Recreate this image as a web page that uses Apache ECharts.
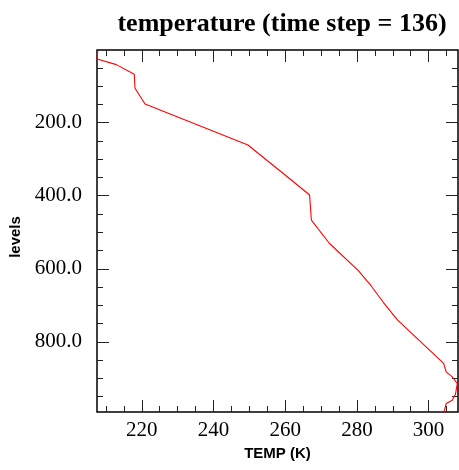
<!DOCTYPE html>
<html>
<head>
<meta charset="utf-8">
<script src="https://cdn.jsdelivr.net/npm/echarts@6/dist/echarts.min.js"></script>
<style>
html,body{margin:0;padding:0;background:#fff;}
#chart{width:459px;height:470px;}
</style>
</head>
<body>
<div id="chart"></div>
<script>
// temperature (K) at each level
var temps = [207.7, 207.5, 212.9, 217.9, 218.1, 220.9, 249.6, 261.7, 266.8, 267.3, 272.3, 280.4, 284.0, 287.3, 291.3, 304.2, 304.9, 306.6, 308.0, 307.5, 306.6, 304.9, 304.5, 304.2];
var levels = [2.7, 25.5, 41, 67.4, 105.8, 148.8, 261, 357, 398, 466.6, 530, 605, 647, 691, 740, 859, 882, 896, 914, 943, 960, 969, 985, 994];
var xRange = [207.5, 308.2];
var yRange = [1, 992];
var xMajorTicks = [220, 240, 260, 280, 300];
var xMinorTicks = [210, 215, 225, 230, 235, 245, 250, 255, 265, 270, 275, 285, 290, 295, 305];
var yMajorTicks = [200, 400, 600, 800];
var yMinorTicks = [50, 100, 150, 250, 300, 350, 450, 500, 550, 650, 700, 750, 850, 900, 950];

var chart = echarts.init(document.getElementById('chart'), null, {renderer: 'canvas'});
var serif = '"Liberation Serif", "Times New Roman", serif';
var sans = '"Liberation Sans", Arial, sans-serif';

function xAx(pos, ticks, len, labels) {
  return {
    type: 'value', position: pos, min: xRange[0], max: xRange[1], gridIndex: 0,
    axisLine: {show: false},
    splitLine: {show: false},
    axisTick: {show: true, inside: true, length: len, customValues: ticks, lineStyle: {color: '#222', width: 1}},
    axisLabel: labels ? {show: true, customValues: ticks, fontFamily: serif, fontSize: 21, color: '#000', margin: 8} : {show: false}
  };
}
function yAx(pos, ticks, len, labels) {
  return {
    type: 'value', position: pos, min: yRange[0], max: yRange[1], inverse: true, gridIndex: 0,
    axisLine: {show: false},
    splitLine: {show: false},
    axisTick: {show: true, inside: true, length: len, customValues: ticks, lineStyle: {color: '#222', width: 1}},
    axisLabel: labels ? {show: true, customValues: ticks, fontFamily: serif, fontSize: 21, color: '#000', margin: 15,
      formatter: function (v) { return v.toFixed(1); }} : {show: false}
  };
}

var xAxes = [
  xAx('bottom', xMajorTicks, 12, true),
  xAx('bottom', xMinorTicks, 6, false),
  xAx('top', xMajorTicks, 12, false),
  xAx('top', xMinorTicks, 6, false)
];
xAxes[0].name = 'TEMP (K)';
xAxes[0].nameLocation = 'middle';
xAxes[0].nameGap = 34;
xAxes[0].nameTextStyle = {fontFamily: sans, fontWeight: 'bold', fontSize: 15, color: '#000'};

var yAxes = [
  yAx('left', yMajorTicks, 12, true),
  yAx('left', yMinorTicks, 6, false),
  yAx('right', yMajorTicks, 12, false),
  yAx('right', yMinorTicks, 6, false)
];
yAxes[0].name = 'levels';
yAxes[0].nameLocation = 'middle';
yAxes[0].nameGap = 74;
yAxes[0].nameTextStyle = {fontFamily: sans, fontWeight: 'bold', fontSize: 15, color: '#000', padding: [0, 12, 0, 0]};

var data = temps.map(function (t, i) { return [t, levels[i]]; });

chart.setOption({
  animation: false,
  backgroundColor: '#fff',
  title: {
    text: 'temperature (time step = 136)',
    left: 277, top: 6, textAlign: 'center',
    textStyle: {fontFamily: serif, fontWeight: 'bold', fontSize: 26, color: '#000'}
  },
  grid: {left: 97, top: 50, width: 361, height: 362, show: true, borderColor: '#000', borderWidth: 1.5, backgroundColor: 'transparent'},
  xAxis: xAxes,
  yAxis: yAxes,
  series: [{
    type: 'line',
    data: data,
    xAxisIndex: 0, yAxisIndex: 0,
    showSymbol: false,
    clip: true,
    lineStyle: {color: '#ff0000', width: 1.1},
    itemStyle: {color: '#ff0000'}
  }]
});
</script>
</body>
</html>
